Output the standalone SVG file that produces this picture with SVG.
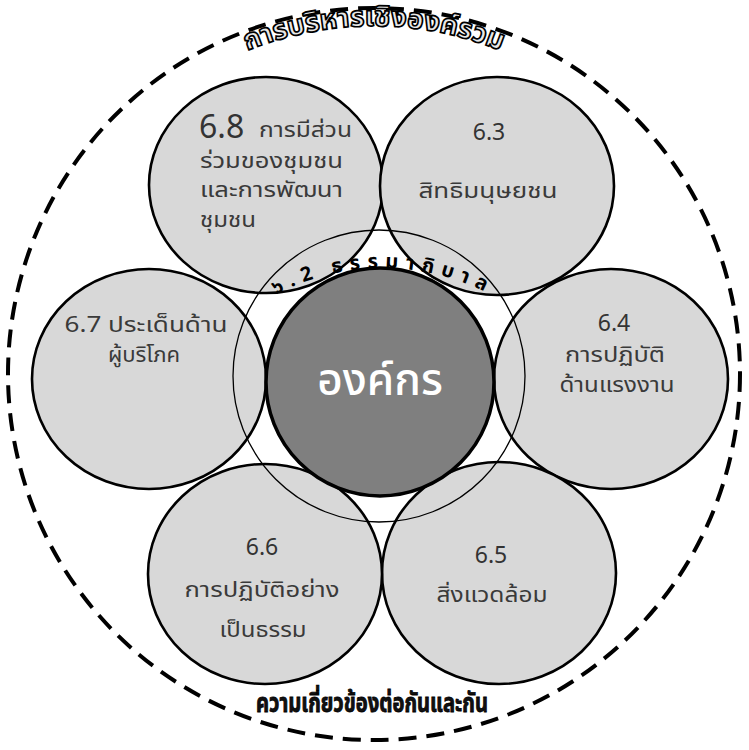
<svg xmlns="http://www.w3.org/2000/svg" width="749" height="750" viewBox="0 0 749 750">
<defs>
<style>
.petal{fill:#d8d8d8;stroke:#000;stroke-width:2.6}
.lbl{font-family:"Noto Sans Thai","Tahoma","Leelawadee UI","Loma","Garuda","Noto Sans",sans-serif;fill:#3a3a3a;font-size:21px}
.num{font-family:"Noto Sans Thai","Tahoma","Leelawadee UI","Noto Sans",sans-serif;fill:#333;font-size:23px}
.mid{text-anchor:middle}
.arcTop{font-family:"Noto Sans Thai","Tahoma","Loma","Garuda","Noto Sans",sans-serif;font-size:28px;font-weight:bold;fill:#e8e8e8;stroke:#000;stroke-width:1.7}
.arcBot{font-family:"Noto Sans Thai","Tahoma","Loma","Garuda","Noto Sans",sans-serif;font-size:26px;font-weight:bold;fill:#111;stroke:#000;stroke-width:0.8}
.gov{font-family:"Noto Sans Thai","Tahoma","Loma","Garuda","Noto Sans",sans-serif;font-size:20px;font-weight:bold;fill:#000}
</style>
<path id="topArc" d="M158,104.3 A337,337 0 0,1 590,104.3"/>
<path id="govArc" d="M235.2,321.8 A230,230 0 0,1 530.8,321.8"/>
</defs>
<rect width="749" height="750" fill="#fff"/>

<g id="holistic-frame">
<circle cx="374" cy="374" r="366" fill="none" stroke="#000" stroke-width="4" stroke-dasharray="18 10"/>
<text class="arcTop"><textPath href="#topArc" startOffset="50%" text-anchor="middle">การบริหารเชิงองค์รวม</textPath></text>
<text class="arcBot" x="372" y="712" text-anchor="middle" textLength="232" lengthAdjust="spacingAndGlyphs">ความเกี่ยวข้องต่อกันและกัน</text>
</g>

<g id="node-6-8">
<ellipse class="petal" cx="266" cy="185" rx="117" ry="108"/>
<text x="199" y="138" class="num" style="font-size:32px">6.8</text>
<text x="259" y="137" class="lbl" textLength="93" lengthAdjust="spacingAndGlyphs">การมีส่วน</text>
<text x="200" y="168" class="lbl" textLength="143" lengthAdjust="spacingAndGlyphs">ร่วมของชุมชน</text>
<text x="200" y="197" class="lbl" textLength="143" lengthAdjust="spacingAndGlyphs">และการพัฒนา</text>
<text x="200" y="227" class="lbl" textLength="56" lengthAdjust="spacingAndGlyphs">ชุมชน</text>
</g>

<g id="node-6-3">
<ellipse class="petal" cx="497" cy="186" rx="117" ry="109"/>
<text x="489" y="140" class="num mid">6.3</text>
<text x="488" y="198" class="lbl mid" textLength="139" lengthAdjust="spacingAndGlyphs">สิทธิมนุษยชน</text>
</g>

<g id="node-6-4">
<ellipse class="petal" cx="611" cy="379" rx="117" ry="110"/>
<text x="614" y="331" class="num mid">6.4</text>
<text x="615" y="362" class="lbl mid" textLength="100" lengthAdjust="spacingAndGlyphs">การปฏิบัติ</text>
<text x="617" y="392" class="lbl mid" textLength="115" lengthAdjust="spacingAndGlyphs">ด้านแรงงาน</text>
</g>

<g id="node-6-5">
<ellipse class="petal" cx="499" cy="573" rx="117" ry="111"/>
<text x="491" y="563" class="num mid">6.5</text>
<text x="492" y="602" class="lbl mid" textLength="111" lengthAdjust="spacingAndGlyphs">สิ่งแวดล้อม</text>
</g>

<g id="node-6-6">
<ellipse class="petal" cx="265" cy="574" rx="117" ry="110"/>
<text x="262" y="555" class="num mid">6.6</text>
<text x="262" y="597" class="lbl mid" textLength="155" lengthAdjust="spacingAndGlyphs">การปฏิบัติอย่าง</text>
<text x="263" y="637" class="lbl mid" textLength="87" lengthAdjust="spacingAndGlyphs">เป็นธรรม</text>
</g>

<g id="node-6-7">
<ellipse class="petal" cx="149" cy="379" rx="117" ry="110"/>
<text x="146" y="332" class="lbl mid" textLength="163" lengthAdjust="spacingAndGlyphs">6.7 ประเด็นด้าน</text>
<text x="144" y="362" class="lbl mid" textLength="72" lengthAdjust="spacingAndGlyphs">ผู้บริโภค</text>
</g>

<g id="node-6-2">
<circle cx="379" cy="376" r="146" fill="none" stroke="#000" stroke-width="1.3"/>
<text class="gov" letter-spacing="7"><textPath href="#govArc" startOffset="50%" text-anchor="middle">๖.2 ธรรมาภิบาล</textPath></text>
</g>

<g id="node-org">
<circle cx="380" cy="382" r="114" fill="#7f7f7f" stroke="#000" stroke-width="3.5"/>
<text x="380" y="395" text-anchor="middle" style="font-family:'Noto Sans Thai','Tahoma','Loma','Garuda','Noto Sans',sans-serif;font-size:44px;font-weight:500;fill:#fff">องค์กร</text>
</g>
</svg>
